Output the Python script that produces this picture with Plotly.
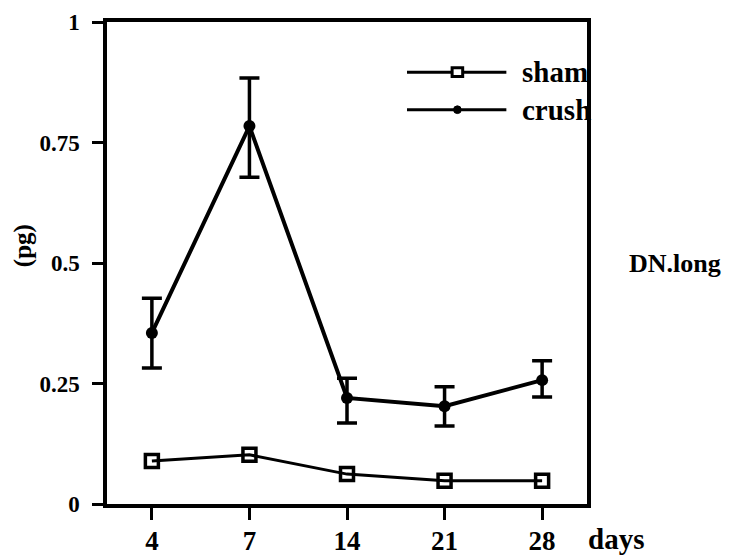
import plotly.graph_objects as go

# Days after injury (category axis) and measured DN.long values (pg)
days = ["4", "7", "14", "21", "28"]
sham_mean = [0.089, 0.102, 0.062, 0.048, 0.048]
crush_mean = [0.355, 0.784, 0.220, 0.203, 0.257]
crush_upper = [0.427, 0.884, 0.261, 0.243, 0.297]
crush_lower = [0.282, 0.678, 0.168, 0.162, 0.222]
y_ticks = [0, 0.25, 0.5, 0.75, 1]
y_tick_text = ["0", "0.25", "0.5", "0.75", "1"]

crush_plus = [u - m for u, m in zip(crush_upper, crush_mean)]
crush_minus = [m - l for m, l in zip(crush_mean, crush_lower)]

FONT = "Liberation Serif"
INK = "black"


def bold(s):
    return "<b>" + s + "</b>"


fig = go.Figure()

fig.add_trace(go.Scatter(
    x=days, y=sham_mean, mode="lines+markers", name="sham",
    line=dict(color=INK, width=3),
    marker=dict(symbol="square-open", size=13, color=INK, line=dict(width=3.5, color=INK)),
    showlegend=False,
))

fig.add_trace(go.Scatter(
    x=days, y=crush_mean, mode="lines+markers", name="crush",
    line=dict(color=INK, width=4),
    marker=dict(symbol="circle", size=12, color=INK),
    error_y=dict(type="data", symmetric=False, array=crush_plus, arrayminus=crush_minus,
                 color=INK, thickness=3.5, width=10),
    showlegend=False,
))

# Legend drawn as sample lines in paper coordinates
legend_rows = [("sham", 0.896), ("crush", 0.818)]
x0, x1, xm = 0.625, 0.832, 0.73
for label, yy in legend_rows:
    fig.add_shape(type="line", xref="paper", yref="paper", x0=x0, x1=x1, y0=yy, y1=yy,
                  line=dict(color=INK, width=3))
    fig.add_annotation(xref="paper", yref="paper", x=0.86, y=yy, text=bold(label),
                       showarrow=False, xanchor="left", yanchor="middle",
                       font=dict(family=FONT, size=29, color=INK))
# legend markers
fig.add_shape(type="rect", xref="paper", yref="paper",
              x0=xm - 0.011, x1=xm + 0.011, y0=0.896 - 0.009, y1=0.896 + 0.009,
              line=dict(color=INK, width=3), fillcolor="white")
fig.add_shape(type="circle", xref="paper", yref="paper",
              x0=xm - 0.008, x1=xm + 0.008, y0=0.818 - 0.008, y1=0.818 + 0.008,
              line=dict(color=INK, width=1), fillcolor=INK)

fig.add_annotation(xref="paper", yref="paper", x=0.998, y=-0.073, text=bold("days"),
                   showarrow=False, xanchor="left", yanchor="middle",
                   font=dict(family=FONT, size=29, color=INK))
fig.add_annotation(xref="paper", yref="paper", x=1.083, y=0.5, text=bold("DN.long"),
                   showarrow=False, xanchor="left", yanchor="middle",
                   font=dict(family=FONT, size=26, color=INK))
fig.add_annotation(xref="paper", yref="paper", x=-0.175, y=0.535, text=bold("(pg)"),
                   showarrow=False, textangle=-90, xanchor="center", yanchor="middle",
                   font=dict(family=FONT, size=25, color=INK))

axis_common = dict(
    showline=True, linecolor=INK, linewidth=3.5, mirror=True,
    ticks="outside", tickwidth=3, tickcolor=INK,
    showgrid=False, zeroline=False, automargin=False,
)

fig.update_xaxes(type="category", range=[-0.46, 4.46], tickvals=days,
                 ticktext=[bold(d) for d in days], ticklen=12, ticklabelstandoff=-2,
                 tickfont=dict(family=FONT, size=27, color=INK), **axis_common)
fig.update_yaxes(range=[0, 1], tickvals=y_ticks, ticktext=[bold(t) for t in y_tick_text],
                 ticklen=11, ticklabelstandoff=8,
                 tickfont=dict(family=FONT, size=23, color=INK), **axis_common)

fig.update_layout(
    width=755, height=558,
    margin=dict(l=107, r=168, t=22, b=54),
    plot_bgcolor="white", paper_bgcolor="white",
)

fig.write_html("out.html")
